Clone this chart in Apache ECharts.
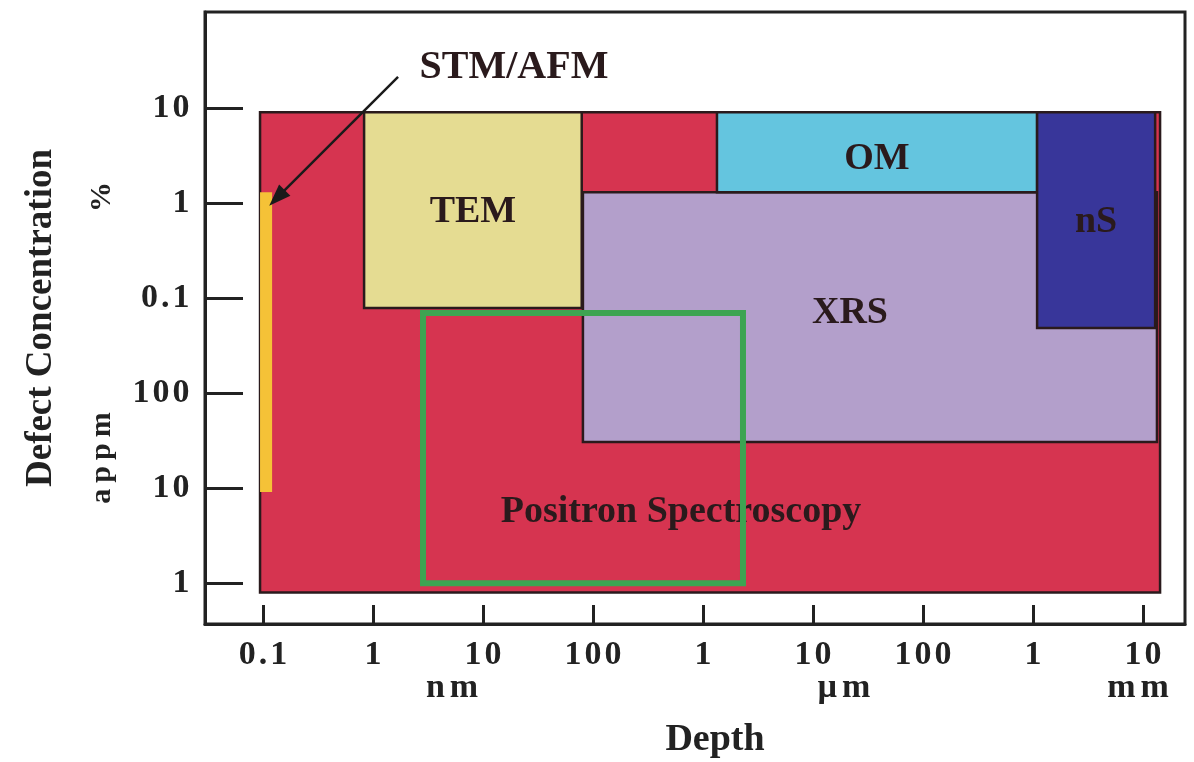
<!DOCTYPE html>
<html>
<head>
<meta charset="utf-8">
<script src="https://cdn.jsdelivr.net/npm/echarts@6/dist/echarts.min.js"></script>
<style>
  html, body { margin: 0; padding: 0; background: #ffffff; }
  #chart { width: 1194px; height: 762px; }
</style>
</head>
<body>
<div id="chart"></div>
<script>
// Depth axis ticks (nm) with printed labels and unit captions
const depthTicks = [0.1, 1, 10, 100, 1e3, 1e4, 1e5, 1e6, 1e7];
const depthTickLabels = ['0.1', '1', '10', '100', '1', '10', '100', '1', '10'];
const depthTickUnits = ['', '', 'nm', '', '', 'µm', '', '', 'mm'];

// Concentration axis ticks (appm) with printed labels (% above 1000 appm)
const concTicks = [1, 10, 100, 1e3, 1e4, 1e5];
const concTickLabels = ['1', '10', '100', '0.1', '1', '10'];

// Technique ranges, drawn in this order: depth in nm, concentration in appm
const techniques = ['Positron Spectroscopy', 'XRS', 'OM', 'nS', 'TEM', 'STM/AFM'];
const depthMin = [0.094, 81, 1340, 1.09e6, 0.83, 0.094];
const depthMax = [1.43e7, 1.34e7, 1.09e6, 1.29e7, 79, 0.121];
const concMin = [0.8, 30.5, 1.3e4, 483, 785, 9.1];
const concMax = [9e4, 1.3e4, 9e4, 9e4, 9e4, 1.3e4];

// Positron spectroscopy sensitivity window (outlined)
const windowDepth = [2.85, 2310];
const windowConc = [1, 695];

const FONT = '"Liberation Serif", "Times New Roman", serif';
const INK = '#2a1a1c';
const AXIS = '#222222';
const fills = {
  'Positron Spectroscopy': '#d63450',
  'XRS': '#b39fcb',
  'OM': '#64c5df',
  'nS': '#38369a',
  'TEM': '#e5dc92',
  'STM/AFM': '#f5c237'
};
// caption anchors (data coords) inside each region
const labelAt = {
  'Positron Spectroscopy': [631, 5.6],
  'XRS': [2.17e4, 695],
  'OM': [3.82e4, 2.9e4],
  'nS': [3.75e6, 6300],
  'TEM': [8.1, 8000]
};
const noCaption = { 'STM/AFM': true };
const noBorder = { 'STM/AFM': true };
// horizontal nudge (px) of unit captions relative to their tick
const unitShift = { 'nm': -31, 'µm': 31, 'mm': -5 };

function spaced(str, style) {
  return str.split('').map(function (c) { return '{' + style + '|' + c + '}'; }).join('');
}
function tickIndex(ticks, v) {
  let best = 0, d = Infinity;
  ticks.forEach(function (t, i) {
    const e = Math.abs(Math.log10(t) - Math.log10(v));
    if (e < d) { d = e; best = i; }
  });
  return best;
}

const tickFont = { fontFamily: FONT, fontWeight: 'bold', fontSize: 34, color: AXIS, lineHeight: 33 };
const xRich = { d: Object.assign({ padding: [0, 1.5] }, tickFont), u: Object.assign({ padding: [0, 2.5] }, tickFont) };
Object.keys(unitShift).forEach(function (unit, k) {
  const s = unitShift[unit];
  xRich['ua' + k] = Object.assign({ padding: [0, 2.5, 0, 2.5 + (s > 0 ? 2 * s : 0)] }, tickFont);
  xRich['ub' + k] = Object.assign({ padding: [0, 2.5 + (s < 0 ? -2 * s : 0), 0, 2.5] }, tickFont);
});
function unitText(unit) {
  const k = Object.keys(unitShift).indexOf(unit);
  const chars = unit.split('');
  return chars.map(function (c, i) {
    let st = 'u';
    if (i === 0) st = 'ua' + k;
    if (i === chars.length - 1) st = 'ub' + k;
    return '{' + st + '|' + c + '}';
  }).join('');
}

function renderRegion(params, api) {
  const name = techniques[params.dataIndex];
  const a = api.coord([api.value(0), api.value(2)]);
  const b = api.coord([api.value(1), api.value(3)]);
  const x = Math.min(a[0], b[0]), y = Math.min(a[1], b[1]);
  const w = Math.abs(b[0] - a[0]), h = Math.abs(b[1] - a[1]);
  const children = [{
    type: 'rect',
    shape: { x: x, y: y, width: w, height: h },
    style: noBorder[name]
      ? { fill: fills[name] }
      : { fill: fills[name], stroke: INK, lineWidth: 2.5 }
  }];
  if (!noCaption[name]) {
    const p = labelAt[name] ? api.coord(labelAt[name]) : [x + w / 2, y + h / 2];
    children.push({
      type: 'text',
      x: p[0], y: p[1],
      style: {
        text: name, fill: INK,
        font: 'bold 38px ' + FONT,
        align: 'center', verticalAlign: 'middle',
        textAlign: 'center', textVerticalAlign: 'middle'
      }
    });
  }
  return { type: 'group', children: children };
}

function renderWindow(params, api) {
  const a = api.coord([api.value(0), api.value(2)]);
  const b = api.coord([api.value(1), api.value(3)]);
  return {
    type: 'rect',
    shape: { x: Math.min(a[0], b[0]), y: Math.min(a[1], b[1]), width: Math.abs(b[0] - a[0]), height: Math.abs(b[1] - a[1]) },
    style: { fill: 'none', stroke: '#3da452', lineWidth: 6 }
  };
}

const chart = echarts.init(document.getElementById('chart'), null, { renderer: 'canvas' });
chart.setOption({
  animation: false,
  backgroundColor: '#ffffff',
  grid: {
    left: 205, top: 12, right: 9, bottom: 138,
    show: true, borderColor: AXIS, borderWidth: 3,
    containLabel: false, outerBoundsMode: 'none'
  },
  xAxis: {
    type: 'log', logBase: 10, min: 0.0297, max: 2.41e7,
    axisLine: { show: true, onZero: false, lineStyle: { color: AXIS, width: 3 } },
    axisTick: { show: true, inside: true, length: 19, customValues: depthTicks, lineStyle: { color: AXIS, width: 3 } },
    minorTick: { show: false },
    splitLine: { show: false },
    axisLabel: {
      customValues: depthTicks,
      margin: 15,
      formatter: function (v) {
        const i = tickIndex(depthTicks, v);
        let s = spaced(depthTickLabels[i], 'd');
        if (depthTickUnits[i]) s += '\n' + unitText(depthTickUnits[i]);
        return s;
      },
      rich: xRich
    },
    name: 'Depth', nameLocation: 'middle', nameGap: 97,
    nameTextStyle: { fontFamily: FONT, fontWeight: 'bold', fontSize: 38, color: AXIS, padding: [0, 0, 0, 40] }
  },
  yAxis: {
    type: 'log', logBase: 10, min: 0.372, max: 1.023e6,
    axisLine: { show: true, onZero: false, lineStyle: { color: AXIS, width: 3 } },
    axisTick: { show: true, inside: true, length: 38, customValues: concTicks, lineStyle: { color: AXIS, width: 3 } },
    minorTick: { show: false },
    splitLine: { show: false },
    axisLabel: {
      customValues: concTicks,
      margin: 14,
      formatter: function (v) { return spaced(concTickLabels[tickIndex(concTicks, v)], 'd'); },
      rich: { d: Object.assign({ padding: [0, 1.5] }, tickFont) }
    },
    name: 'Defect Concentration', nameLocation: 'middle', nameRotate: 90, nameGap: 145,
    nameTextStyle: { fontFamily: FONT, fontWeight: 'bold', fontSize: 37, color: AXIS }
  },
  graphic: [
    {
      type: 'text', x: 514, y: 68,
      style: { text: 'STM/AFM', font: 'bold 40px ' + FONT, fill: INK, align: 'center', verticalAlign: 'middle', textAlign: 'center', textVerticalAlign: 'middle' }
    },
    {
      type: 'text', x: 102, y: 197, rotation: Math.PI / 2,
      style: { text: '%', font: 'bold 30px ' + FONT, fill: AXIS, align: 'center', verticalAlign: 'middle', textAlign: 'center', textVerticalAlign: 'middle' }
    },
    {
      type: 'text', x: 102, y: 458, rotation: Math.PI / 2,
      style: {
        text: spaced('appm', 'c'),
        rich: { c: { padding: [0, 3], fontFamily: FONT, fontWeight: 'bold', fontSize: 30, fill: AXIS, color: AXIS } },
        align: 'center', verticalAlign: 'middle', textAlign: 'center', textVerticalAlign: 'middle'
      }
    }
  ],
  series: [
    {
      type: 'custom',
      coordinateSystem: 'cartesian2d',
      silent: true,
      clip: false,
      z: 2,
      encode: { x: [0, 1], y: [2, 3] },
      data: techniques.map(function (n, i) { return [depthMin[i], depthMax[i], concMin[i], concMax[i]]; }),
      renderItem: renderRegion,
      markLine: {
        silent: true,
        symbol: ['none', 'triangle'],
        symbolSize: [16, 22],
        lineStyle: { color: '#1a1a1a', width: 2.5, type: 'solid' },
        label: { show: false },
        emphasis: { disabled: true },
        data: [[{ coord: [1.69, 2.12e5] }, { coord: [0.134, 1.13e4] }]]
      }
    },
    {
      type: 'custom',
      coordinateSystem: 'cartesian2d',
      silent: true,
      clip: false,
      z: 3,
      encode: { x: [0, 1], y: [2, 3] },
      data: [[windowDepth[0], windowDepth[1], windowConc[0], windowConc[1]]],
      renderItem: renderWindow
    }
  ]
});
</script>
</body>
</html>
